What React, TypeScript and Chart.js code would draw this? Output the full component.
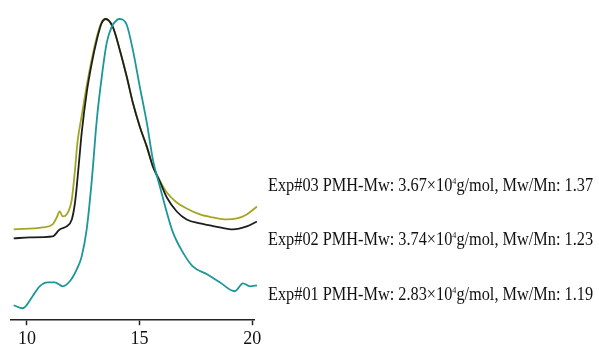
import React, { useEffect, useRef } from "react";
import { Chart, registerables } from "chart.js";

Chart.register(...registerables);

// Elution time (min) and detector response (arbitrary units)
const time01 = [9.41, 9.81, 10.25, 10.56, 10.92, 11.23, 11.59, 11.9, 12.21, 12.43, 12.65, 12.88, 13.1, 13.32, 13.54, 13.76, 13.99, 14.12, 14.43, 14.7, 15.01, 15.32, 15.59, 15.9, 16.21, 16.48, 16.92, 17.36, 17.99, 18.56, 19.23, 19.59, 19.9, 20.21];
const signal01 = [15, 12, 24, 34, 38, 38, 34, 39, 51, 64, 91, 141, 201, 244, 278, 294, 301, 302, 296, 271, 234, 198, 161, 134, 108, 88, 68, 54, 46, 38, 29, 37, 34, 35];

const time02 = [9.41, 10.12, 11.14, 11.45, 11.76, 11.99, 12.12, 12.21, 12.34, 12.43, 12.65, 12.88, 13.1, 13.32, 13.5, 13.81, 14.12, 14.43, 14.7, 15.01, 15.32, 15.59, 15.9, 16.21, 16.65, 17.09, 17.68, 18.12, 18.56, 19.14, 19.76, 20.21];
const signal02 = [82, 83, 84, 91, 94, 101, 116, 134, 166, 188, 228, 258, 281, 298, 302, 294, 271, 244, 218, 194, 174, 154, 139, 123, 109, 101, 97, 95, 93, 91, 94, 99];

const time03 = [9.41, 10.7, 11.14, 11.32, 11.45, 11.59, 11.76, 11.99, 12.12, 12.25, 12.43, 12.65, 12.88, 13.1, 13.32, 13.48, 13.81, 14.12, 14.43, 14.7, 15.01, 15.32, 15.59, 15.9, 16.21, 16.65, 17.09, 17.68, 18.25, 18.88, 19.32, 19.76, 20.21];
const signal03 = [91, 93, 96, 103, 109, 104, 106, 121, 148, 180, 205, 235, 262, 284, 299, 302, 294, 271, 244, 218, 194, 174, 155, 140, 128, 118, 112, 106, 103, 101, 102, 106, 114];

const xTicks = [10, 15, 20];

const expNames = ["Exp#03", "Exp#02", "Exp#01"];
const mwValues = ["3.67", "3.74", "2.83"];
const pdiValues = ["1.37", "1.23", "1.19"];

const toPoints = (xs: number[], ys: number[]) => xs.map((x, i) => ({ x, y: ys[i] }));

const labelPlugin = {
  id: "sampleLabels",
  afterDraw(chart: any) {
    const { ctx, chartArea, scales } = chart;
    const anchors = [130, 75, 20];
    ctx.save();
    ctx.fillStyle = "#111";
    ctx.textBaseline = "alphabetic";
    ctx.textAlign = "left";
    expNames.forEach((name, i) => {
      const x0 = chartArea.right + 14;
      const y0 = scales.y.getPixelForValue(anchors[i]);
      ctx.save();
      ctx.translate(x0, y0);
      ctx.scale(0.905, 1);
      ctx.font = "18px 'Liberation Serif', 'Times New Roman', serif";
      const a = `${name} PMH-Mw: ${mwValues[i]}×10`;
      ctx.fillText(a, 0, 0);
      let w = ctx.measureText(a).width;
      ctx.font = "9px 'Liberation Serif', 'Times New Roman', serif";
      ctx.fillText("4", w, -7);
      w += ctx.measureText("4").width;
      ctx.font = "18px 'Liberation Serif', 'Times New Roman', serif";
      ctx.fillText(`g/mol, Mw/Mn: ${pdiValues[i]}`, w, 0);
      ctx.restore();
    });
    ctx.restore();
  },
};

export default function App() {
  const canvasRef = useRef<HTMLCanvasElement | null>(null);

  useEffect(() => {
    if (!canvasRef.current) return;
    const common = {
      borderWidth: 1.8,
      pointRadius: 0,
      cubicInterpolationMode: "monotone" as const,
      clip: false as any,
    };
    const chart = new Chart(canvasRef.current, {
      type: "line",
      data: {
        datasets: [
          { label: "Exp#01", data: toPoints(time01, signal01), borderColor: "rgb(28,150,152)", order: 1, ...common },
          { label: "Exp#02", data: toPoints(time02, signal02), borderColor: "rgb(30,30,30)", order: 2, ...common },
          { label: "Exp#03", data: toPoints(time03, signal03), borderColor: "rgb(165,165,35)", order: 3, ...common },
        ],
      },
      options: {
        animation: false,
        responsive: false,
        layout: { padding: { left: 11, right: 345, top: 11, bottom: -4 } },
        plugins: {
          legend: { display: false },
          tooltip: { enabled: false },
        },
        scales: {
          x: {
            type: "linear",
            min: 9.29,
            max: 20.08,
            afterBuildTicks: (scale: any) => {
              scale.ticks = xTicks.map((v) => ({ value: v }));
            },
            grid: {
              drawOnChartArea: false,
              drawTicks: true,
              tickLength: 5,
              tickColor: "#222",
              tickWidth: 1.5,
            },
            border: { display: true, color: "#222", width: 1.5 },
            ticks: {
              color: "#111",
              padding: 4,
              maxRotation: 0,
              font: { family: "'Liberation Serif', 'Times New Roman', serif", size: 18, lineHeight: 1.1 },
            },
          },
          y: {
            display: false,
            min: 0,
            max: 310,
          },
        },
      },
      plugins: [labelPlugin],
    });
    return () => chart.destroy();
  }, []);

  return (
    <div style={{ position: "fixed", left: 0, top: 0, width: 599, height: 349, background: "#fff" }}>
      <canvas ref={canvasRef} width={599} height={349} style={{ display: "block" }} />
    </div>
  );
}
